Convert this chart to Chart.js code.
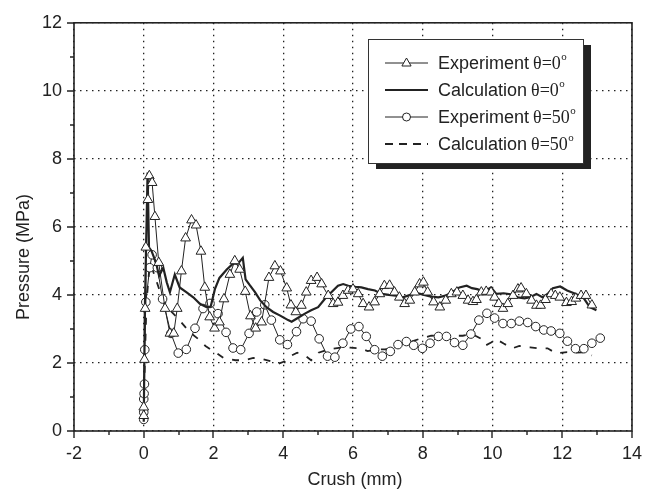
<!DOCTYPE html>
<html>
<head>
<meta charset="utf-8">
<script src="https://cdn.jsdelivr.net/npm/chart.js@4.4.0/dist/chart.umd.min.js"></script>
<style>
  html, body { margin: 0; padding: 0; background: #fff; }
  canvas { display: block; }
</style>
</head>
<body>
<canvas id="chart" width="654" height="493"></canvas>
<script>
// tick values
const xMajor = [-2, 0, 2, 4, 6, 8, 10, 12, 14];
const xMinor = [-1, 1, 3, 5, 7, 9, 11, 13];
const yMajor = [0, 2, 4, 6, 8, 10, 12];
const yMinor = [1, 3, 5, 7, 9, 11];

// Experiment theta=0 (triangles)
const exp0X = [0.0, 0.0, 0.02, 0.04, 0.06, 0.12, 0.16, 0.24, 0.32, 0.43, 0.61, 0.75, 0.86, 0.96, 1.08, 1.2, 1.37, 1.5, 1.64, 1.75, 1.89, 2.03, 2.17, 2.3, 2.47, 2.61, 2.75, 2.91, 3.06, 3.21, 3.38, 3.59, 3.76, 3.92, 4.1, 4.22, 4.36, 4.52, 4.66, 4.8, 4.97, 5.1, 5.29, 5.43, 5.57, 5.71, 5.86, 6.0, 6.15, 6.29, 6.46, 6.62, 6.77, 6.9, 7.05, 7.19, 7.33, 7.48, 7.63, 7.77, 7.91, 8.02, 8.14, 8.31, 8.49, 8.66, 8.82, 8.98, 9.15, 9.3, 9.44, 9.54, 9.68, 9.82, 9.96, 10.06, 10.18, 10.3, 10.44, 10.59, 10.73, 10.82, 10.97, 11.12, 11.26, 11.38, 11.52, 11.68, 11.8, 11.93, 12.12, 12.27, 12.39, 12.54, 12.68, 12.85];
const exp0Y = [0.45, 0.7, 2.1, 3.6, 5.4, 6.8, 7.5, 7.3, 6.3, 4.95, 3.6, 2.87, 2.87, 3.6, 4.7, 5.67, 6.2, 6.05, 5.28, 4.22, 3.35, 3.02, 3.2, 3.88, 4.6, 5.0, 4.75, 4.1, 3.38, 3.02, 3.2, 4.51, 4.85, 4.7, 4.2, 3.7, 3.5, 3.69, 4.08, 4.42, 4.51, 4.32, 3.98, 3.74, 3.78, 3.98, 4.13, 4.17, 4.03, 3.74, 3.64, 3.79, 4.03, 4.27, 4.28, 4.08, 3.93, 3.74, 3.84, 4.08, 4.32, 4.37, 4.08, 3.79, 3.64, 3.84, 4.03, 4.08, 3.98, 3.84, 3.8, 3.86, 4.08, 4.1, 4.08, 3.93, 3.74, 3.6, 3.74, 3.98, 4.17, 4.2, 4.03, 3.84, 3.69, 3.69, 3.86, 4.03, 3.98, 3.93, 3.77, 3.8, 3.9, 3.98, 3.98, 3.7];

// Calculation theta=0 (solid)
const calc0X = [0.0, 0.03, 0.11, 0.15, 0.22, 0.35, 0.44, 0.56, 0.66, 0.75, 0.89, 1.03, 1.22, 1.42, 1.61, 1.8, 1.92, 2.04, 2.17, 2.38, 2.56, 2.7, 2.84, 2.92, 3.03, 3.19, 3.34, 3.52, 3.71, 3.9, 4.14, 4.24, 4.38, 4.62, 4.8, 5.0, 5.19, 5.38, 5.57, 5.72, 5.86, 6.07, 6.24, 6.43, 6.63, 6.82, 7.03, 7.23, 7.43, 7.64, 7.84, 8.04, 8.24, 8.45, 8.65, 8.85, 9.05, 9.26, 9.41, 9.56, 9.76, 9.96, 10.11, 10.32, 10.52, 10.73, 10.92, 11.08, 11.26, 11.43, 11.58, 11.73, 11.94, 12.14, 12.34, 12.6, 12.79, 12.98];
const calc0Y = [0.27, 3.5, 7.6, 5.4, 5.3, 4.95, 4.56, 4.8, 4.37, 4.08, 4.6, 4.22, 4.08, 3.93, 3.74, 3.64, 3.66, 4.17, 4.5, 4.75, 4.92, 4.92, 5.09, 4.46, 4.3, 4.08, 3.84, 3.64, 3.5, 3.4, 3.26, 3.21, 3.3, 3.45, 3.55, 3.64, 3.88, 4.08, 4.27, 4.32, 4.27, 4.24, 4.22, 4.17, 4.13, 4.03, 4.0, 3.98, 3.93, 4.0, 4.05, 4.0, 3.95, 3.93, 3.98, 4.08, 4.22, 4.27, 4.2, 4.17, 4.1, 4.22, 4.03, 4.05, 4.02, 3.93, 3.9, 3.93, 4.03, 3.93, 4.03, 4.2, 4.25, 4.13, 4.05, 3.93, 3.64, 3.55];

// Experiment theta=50 (circles)
const exp50X = [0.0, 0.0, 0.0, 0.01, 0.02, 0.03, 0.06, 0.17, 0.24, 0.39, 0.54, 0.78, 0.99, 1.22, 1.47, 1.7, 1.9, 2.13, 2.36, 2.56, 2.78, 3.02, 3.24, 3.47, 3.66, 3.9, 4.12, 4.38, 4.57, 4.8, 5.03, 5.27, 5.48, 5.71, 5.94, 6.17, 6.38, 6.62, 6.84, 7.07, 7.29, 7.53, 7.74, 7.99, 8.21, 8.45, 8.68, 8.91, 9.15, 9.38, 9.61, 9.84, 10.06, 10.3, 10.54, 10.77, 11.01, 11.24, 11.47, 11.68, 11.93, 12.15, 12.38, 12.62, 12.85, 13.09];
const exp50Y = [0.34, 0.55, 0.94, 1.1, 1.38, 2.39, 3.79, 4.8, 5.18, 4.8, 3.88, 2.87, 2.29, 2.4, 3.02, 3.6, 3.75, 3.45, 2.9, 2.44, 2.39, 2.87, 3.5, 3.71, 3.26, 2.68, 2.54, 2.92, 3.3, 3.23, 2.71, 2.2, 2.17, 2.58, 3.0, 3.07, 2.78, 2.39, 2.2, 2.34, 2.54, 2.63, 2.52, 2.43, 2.58, 2.78, 2.78, 2.6, 2.52, 2.85, 3.26, 3.46, 3.32, 3.16, 3.16, 3.23, 3.19, 3.07, 2.97, 2.94, 2.87, 2.64, 2.42, 2.42, 2.58, 2.73];

// Calculation theta=50 (dashed)
const calc50X = [0.0, 0.03, 0.08, 0.17, 0.25, 0.35, 0.5, 0.71, 0.99, 1.32, 1.57, 1.77, 2.07, 2.28, 2.63, 2.88, 3.14, 3.39, 3.64, 3.84, 4.05, 4.2, 4.4, 4.65, 4.8, 5.01, 5.31, 5.71, 5.92, 6.22, 6.42, 6.73, 6.93, 7.23, 7.44, 7.74, 7.94, 8.24, 8.55, 8.8, 9.15, 9.41, 9.66, 9.81, 9.96, 10.11, 10.32, 10.57, 10.77, 11.08, 11.33, 11.58, 11.83, 12.14, 12.34, 12.64, 12.85];
const calc50Y = [0.3, 2.0, 3.8, 4.9, 4.75, 4.45, 4.0, 3.6, 3.3, 2.9, 2.7, 2.5, 2.3, 2.15, 2.08, 2.08, 2.15, 2.12, 2.05, 1.97, 2.05, 2.2, 2.3, 2.2, 2.08, 2.3, 2.4, 2.46, 2.45, 2.43, 2.35, 2.4, 2.4, 2.5, 2.57, 2.65, 2.72, 2.8, 2.82, 2.8, 2.8, 2.85, 2.72, 2.52, 2.6, 2.7, 2.57, 2.43, 2.5, 2.46, 2.43, 2.43, 2.28, 2.32, 2.3, 2.31, 2.22];

const ink = '#222';
const sans = '"Liberation Sans", Arial, sans-serif';
const serif = '"Liberation Serif", "Times New Roman", serif';

function pts(xs, ys) {
  return xs.map((x, i) => ({ x: x, y: ys[i] }));
}

// legend rows: label, theta text, marker, dash, line width
const legendRows = [
  { label: 'Experiment', theta: 'θ=0', marker: 'triangle', dash: [], width: 1 },
  { label: 'Calculation', theta: 'θ=0', marker: null, dash: [], width: 2.2 },
  { label: 'Experiment', theta: 'θ=50', marker: 'circle', dash: [], width: 1 },
  { label: 'Calculation', theta: 'θ=50', marker: null, dash: [8, 6], width: 1.8 }
];

function drawMarker(ctx, type, cx, cy) {
  ctx.save();
  ctx.setLineDash([]);
  ctx.fillStyle = '#fff';
  ctx.strokeStyle = ink;
  ctx.lineWidth = 1;
  ctx.beginPath();
  if (type === 'triangle') {
    ctx.moveTo(cx, cy - 5);
    ctx.lineTo(cx + 4.6, cy + 3);
    ctx.lineTo(cx - 4.6, cy + 3);
    ctx.closePath();
  } else {
    ctx.arc(cx, cy, 4, 0, Math.PI * 2);
  }
  ctx.fill();
  ctx.stroke();
  ctx.restore();
}

const framePlugin = {
  id: 'frame',
  afterDraw(chart) {
    const { ctx, chartArea: a, scales } = chart;
    const sx = scales.x, sy = scales.y;
    ctx.save();

    // frame
    ctx.strokeStyle = ink;
    ctx.lineWidth = 1.6;
    ctx.setLineDash([]);
    ctx.strokeRect(a.left, a.top, a.right - a.left, a.bottom - a.top);

    // tick marks
    ctx.lineWidth = 1.4;
    ctx.beginPath();
    xMajor.forEach(v => { const p = Math.round(sx.getPixelForValue(v)); ctx.moveTo(p, a.bottom); ctx.lineTo(p, a.bottom + 7); });
    xMinor.forEach(v => { const p = Math.round(sx.getPixelForValue(v)); ctx.moveTo(p, a.bottom); ctx.lineTo(p, a.bottom + 4); });
    yMajor.forEach(v => { const p = Math.round(sy.getPixelForValue(v)); ctx.moveTo(a.left, p); ctx.lineTo(a.left - 7, p); });
    yMinor.forEach(v => { const p = Math.round(sy.getPixelForValue(v)); ctx.moveTo(a.left, p); ctx.lineTo(a.left - 4, p); });
    ctx.stroke();

    // axis titles
    ctx.fillStyle = ink;
    ctx.font = '18px ' + sans;
    ctx.textAlign = 'center';
    ctx.textBaseline = 'middle';
    ctx.fillText('Crush (mm)', 355, 480);
    ctx.save();
    ctx.translate(24, 257);
    ctx.rotate(-Math.PI / 2);
    ctx.fillText('Pressure (MPa)', 0, 0);
    ctx.restore();

    // legend box with shadow
    const bx = 368, by = 39, bw = 215, bh = 124;
    ctx.fillStyle = ink;
    ctx.fillRect(bx + 8, by + 6, bw, bh);
    ctx.fillStyle = '#fff';
    ctx.fillRect(bx, by, bw, bh);
    ctx.lineWidth = 1;
    ctx.strokeStyle = '#333';
    ctx.strokeRect(bx + 0.5, by + 0.5, bw, bh);

    legendRows.forEach((r, i) => {
      const cy = 63 + i * 27;
      ctx.strokeStyle = ink;
      ctx.lineWidth = r.width;
      ctx.setLineDash(r.dash);
      ctx.beginPath();
      ctx.moveTo(385, cy);
      ctx.lineTo(428, cy);
      ctx.stroke();
      ctx.setLineDash([]);
      if (r.marker) drawMarker(ctx, r.marker, 406.5, cy);

      ctx.fillStyle = ink;
      ctx.textAlign = 'left';
      ctx.textBaseline = 'middle';
      ctx.font = '18px ' + sans;
      ctx.fillText(r.label, 438, cy + 1);
      let tx = 438 + ctx.measureText(r.label + ' ').width - 1;
      ctx.font = '18px ' + serif;
      ctx.fillText(r.theta, tx, cy + 1);
      tx += ctx.measureText(r.theta).width;
      ctx.font = '11px ' + serif;
      ctx.fillText('o', tx + 0.5, cy - 6);
    });

    ctx.restore();
  }
};

const lineDs = (label, xs, ys, opts) => Object.assign({
  label: label,
  data: pts(xs, ys),
  showLine: true,
  borderColor: ink,
  backgroundColor: '#fff',
  pointBackgroundColor: '#fff',
  pointBorderColor: ink,
  pointBorderWidth: 1,
  tension: 0,
  fill: false
}, opts);

new Chart(document.getElementById('chart'), {
  type: 'scatter',
  data: {
    datasets: [
      lineDs('Experiment θ=0°', exp0X, exp0Y, { borderWidth: 1, pointStyle: 'triangle', pointRadius: 5.6, order: 1 }),
      lineDs('Calculation θ=0°', calc0X, calc0Y, { borderWidth: 2.2, pointRadius: 0, order: 2 }),
      lineDs('Experiment θ=50°', exp50X, exp50Y, { borderWidth: 1, pointStyle: 'circle', pointRadius: 4.3, order: 3 }),
      lineDs('Calculation θ=50°', calc50X, calc50Y, { borderWidth: 1.8, borderDash: [7, 9], pointRadius: 0, order: 4 })
    ]
  },
  options: {
    responsive: false,
    animation: false,
    devicePixelRatio: 1,
    layout: { padding: { left: 0, top: 16, right: 21, bottom: 0 } },
    plugins: { legend: { display: false }, tooltip: { enabled: false } },
    scales: {
      x: {
        type: 'linear', min: -2, max: 14,
        afterBuildTicks: s => { s.ticks = xMajor.map(v => ({ value: v })); },
        afterFit: s => { s.height = 62; },
        grid: { color: '#222', lineWidth: 1.3, drawTicks: false },
        border: { display: false, dash: [1.5, 4.5] },
        ticks: { color: ink, padding: 12, font: { family: sans, size: 18 } }
      },
      y: {
        type: 'linear', min: 0, max: 12,
        afterBuildTicks: s => { s.ticks = yMajor.map(v => ({ value: v })); },
        afterFit: s => { s.width = 74; },
        grid: { color: '#222', lineWidth: 1.3, drawTicks: false },
        border: { display: false, dash: [1.5, 4.5] },
        ticks: { color: ink, padding: 12, font: { family: sans, size: 18 } }
      }
    }
  },
  plugins: [framePlugin]
});
</script>
</body>
</html>
